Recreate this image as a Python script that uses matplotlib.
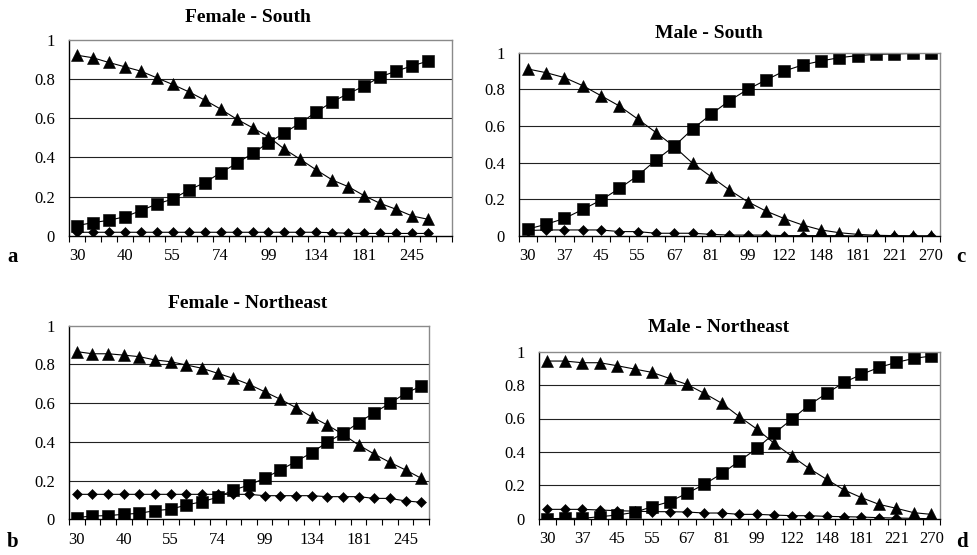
import matplotlib.pyplot as plt
import numpy as np

plt.rcParams['font.family'] = ['Liberation Serif', 'DejaVu Serif']

# CATEGORIES (x axis labels)
cats = ["30", "33", "37", "40", "45", "49", "55", "60", "67", "74", "81", "90",
        "99", "110", "122", "134", "148", "164", "181", "200", "221", "245", "270"]

# FEMALE - SOUTH
fs_tri = [0.920, 0.907, 0.883, 0.861, 0.839, 0.805, 0.771, 0.734, 0.692, 0.646, 0.595, 0.551,
          0.505, 0.442, 0.390, 0.336, 0.285, 0.251, 0.205, 0.166, 0.136, 0.102, 0.085]
fs_sq = [0.053, 0.068, 0.080, 0.098, 0.129, 0.163, 0.188, 0.234, 0.271, 0.322, 0.369, 0.420,
         0.475, 0.525, 0.576, 0.631, 0.683, 0.725, 0.763, 0.810, 0.839, 0.866, 0.890]
fs_dia = [0.019, 0.019, 0.019, 0.019, 0.019, 0.019, 0.019, 0.019, 0.019, 0.019, 0.019, 0.019,
          0.019, 0.019, 0.019, 0.019, 0.017, 0.014, 0.013, 0.013, 0.013, 0.013, 0.013]

# MALE - SOUTH
ms_tri = [0.911, 0.891, 0.864, 0.820, 0.765, 0.709, 0.638, 0.564, 0.487, 0.396, 0.324, 0.251,
          0.187, 0.136, 0.095, 0.060, 0.033, 0.018, 0.009, 0.004, 0.002, 0.0, 0.0]
ms_sq = [0.038, 0.064, 0.096, 0.145, 0.196, 0.260, 0.329, 0.415, 0.491, 0.584, 0.664, 0.738,
         0.800, 0.851, 0.900, 0.933, 0.955, 0.973, 0.984, 0.991, 0.993, 0.996, 0.996]
ms_dia = [0.030, 0.033, 0.033, 0.033, 0.033, 0.024, 0.024, 0.015, 0.015, 0.015, 0.009, 0.005,
          0.005, 0.005, 0.002, 0.002, 0.002, 0.002, 0.0, 0.0, 0.0, 0.0, 0.0]

# FEMALE - NORTHEAST
fn_tri = [0.866, 0.855, 0.855, 0.848, 0.840, 0.823, 0.814, 0.797, 0.780, 0.754, 0.728, 0.697,
          0.659, 0.620, 0.577, 0.530, 0.487, 0.439, 0.384, 0.337, 0.294, 0.255, 0.212]
fn_sq = [0.009, 0.017, 0.019, 0.026, 0.031, 0.045, 0.052, 0.074, 0.091, 0.114, 0.151, 0.177,
         0.212, 0.255, 0.298, 0.344, 0.398, 0.444, 0.499, 0.551, 0.599, 0.651, 0.688]
fn_dia = [0.129, 0.129, 0.129, 0.129, 0.129, 0.129, 0.129, 0.129, 0.129, 0.129, 0.129, 0.129,
          0.122, 0.122, 0.122, 0.122, 0.117, 0.117, 0.117, 0.108, 0.108, 0.095, 0.088]

# MALE - NORTHEAST
mn_tri = [0.944, 0.944, 0.934, 0.934, 0.916, 0.896, 0.876, 0.840, 0.804, 0.750, 0.691, 0.611,
          0.537, 0.451, 0.375, 0.301, 0.236, 0.172, 0.126, 0.086, 0.062, 0.036, 0.026]
mn_sq = [0.0, 0.002, 0.002, 0.012, 0.022, 0.038, 0.072, 0.102, 0.152, 0.206, 0.271, 0.345,
         0.421, 0.511, 0.595, 0.681, 0.750, 0.816, 0.864, 0.906, 0.936, 0.960, 0.974]
mn_dia = [0.056, 0.056, 0.056, 0.052, 0.048, 0.045, 0.042, 0.042, 0.040, 0.034, 0.034, 0.026,
          0.026, 0.022, 0.018, 0.018, 0.014, 0.012, 0.010, 0.006, 0.004, 0.002, 0.0]

W, H = 977, 555
fig = plt.figure(figsize=(W / 100, H / 100), dpi=100)


def px_rect(l, r, t, b):
    return [l / W, 1 - b / H, (r - l) / W, (b - t) / H]


def panel(rect, tri, sq, dia, nslots, every, title, tpos, letter, lpos):
    ax = fig.add_axes(rect)
    x = np.arange(len(cats))
    kw = dict(color='black', lw=0.8, mec='black', mew=0.4)
    ax.plot(x, dia, marker='D', ms=5, **kw)
    ax.plot(x, sq, marker='s', ms=8, **kw)
    ax.plot(x, tri, marker='^', ms=9, **kw)
    ax.set_xlim(-0.5, nslots - 0.5)
    ax.set_ylim(0, 1)
    ax.set_yticks([0, 0.2, 0.4, 0.6, 0.8, 1.0])
    ax.set_yticklabels(["0", "0.2", "0.4", "0.6", "0.8", "1"])
    ax.set_xticks(x[::every])
    ax.set_xticklabels(cats[::every])
    ax.set_xticks(np.arange(nslots + 1) - 0.5, minor=True)
    ax.tick_params(axis='x', which='major', length=0, pad=9, labelsize=12)
    ax.tick_params(axis='x', which='minor', length=4, width=0.8, direction='out')
    ax.tick_params(axis='y', length=0, pad=10, labelsize=12)
    for v in [0.2, 0.4, 0.6, 0.8]:
        ax.axhline(v, color='#222222', lw=0.8, zorder=0)
    for s in ['top', 'right']:
        ax.spines[s].set_color('#8a8a8a')
        ax.spines[s].set_linewidth(1.0)
    for s in ['left', 'bottom']:
        ax.spines[s].set_color('black')
        ax.spines[s].set_linewidth(1.0)
    fig.text(tpos[0] / W, 1 - tpos[1] / H, title, ha='center', va='center',
             fontsize=14, fontweight='bold')
    fig.text(lpos[0] / W, 1 - lpos[1] / H, letter, ha='center', va='center',
             fontsize=15, fontweight='bold')
    return ax


panel(px_rect(69, 452, 39.5, 236), fs_tri, fs_sq, fs_dia, 24, 3,
      "Female - South", (248, 17), "a", (13, 257))
panel(px_rect(518.7, 940, 52.7, 236), ms_tri, ms_sq, ms_dia, 23, 2,
      "Male - South", (709, 34), "c", (961, 257))
panel(px_rect(69, 429, 325.7, 519.3), fn_tri, fn_sq, fn_dia, 23, 3,
      "Female - Northeast", (248, 303), "b", (13, 542))
panel(px_rect(538.7, 940, 351.7, 518.7), mn_tri, mn_sq, mn_dia, 23, 2,
      "Male - Northeast", (719, 328), "d", (962, 542))

fig.savefig("out.png", dpi=100)
